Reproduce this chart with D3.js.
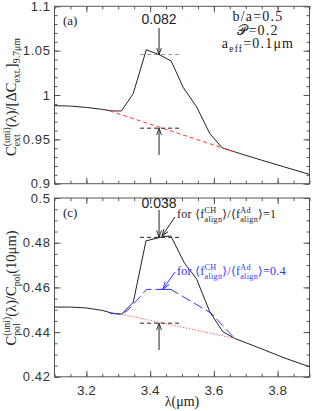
<!DOCTYPE html>
<html>
<head>
<meta charset="utf-8">
<script src="https://cdn.jsdelivr.net/npm/d3@7"></script>
<style>
  body { margin: 0; background: #fff; }
  svg text { fill: #222; }
</style>
</head>
<body>
<div id="chart"></div>
<script>
// panel (a): extinction, wavelength in micron
const lamA   = [3.1, 3.15, 3.2, 3.25, 3.28, 3.31, 3.347, 3.388, 3.428, 3.466, 3.504, 3.546, 3.587, 3.626, 3.67, 3.75, 3.82, 3.9];
const extA   = [0.988, 0.9875, 0.986, 0.9838, 0.982, 0.982, 1.0017, 1.051, 1.0456, 1.0384, 1.0084, 0.9866, 0.9566, 0.9404, 0.9353, 0.9265, 0.919, 0.9105];
const contA  = [[3.274, 0.982], [3.67, 0.9353]];

// panel (c): polarization
const lamC   = [3.1, 3.15, 3.2, 3.25, 3.28, 3.31, 3.347, 3.387, 3.44, 3.465, 3.508, 3.545, 3.587, 3.628, 3.665, 3.75, 3.82, 3.9];
const polC1  = [0.4512, 0.4512, 0.4508, 0.4497, 0.4485, 0.448, 0.4533, 0.4808, 0.4827, 0.483, 0.4708, 0.464, 0.4491, 0.4402, 0.4372, 0.4325, 0.4285, 0.4245];
const lamC04 = [3.274, 3.31, 3.331, 3.389, 3.465, 3.592, 3.665];
const polC04 = [0.4484, 0.448, 0.4499, 0.4591, 0.4591, 0.4484, 0.4372];
const contC  = [[3.31, 0.448], [3.665, 0.4372]];

const xTicks  = [3.2, 3.4, 3.6, 3.8];
const yTicksA = [0.9, 0.95, 1, 1.05, 1.1];
const yTicksC = [0.42, 0.44, 0.46, 0.48, 0.5];

// feature strength markers: [x, top level, bottom level, label]
const markA = [3.428, 1.0456, 0.9626, '0.082'];
const markC = [3.428, 0.4824, 0.444, '0.038'];

const W = 314, H = 411;
const L = 54.5, R = 309.5;
const serif = "'Liberation Serif','DejaVu Serif',serif";
const sans = "'Liberation Sans','DejaVu Sans',sans-serif";

const svg = d3.select('#chart').append('svg')
  .attr('width', W).attr('height', H);

const x = d3.scaleLinear().domain([3.1, 3.9]).range([L, R]);
const yA = d3.scaleLinear().domain([0.9, 1.1]).range([183.7, 6.3]);
const yC = d3.scaleLinear().domain([0.42, 0.5]).range([376.8, 198]);

// text with super/subscripts; back:true stacks a subscript under the previous superscript
function rich(t, parts, size) {
  let cur = 0, prev = 0, extra = 0;
  parts.forEach(p => {
    const fs = p.s ? size * 0.68 : size;
    const off = p.s === 'sup' ? -size * 0.42 : p.s === 'sub' ? size * 0.3 : 0;
    const ts = t.append('tspan').text(p.t).attr('font-size', fs).attr('dy', off - cur);
    if (p.back) ts.attr('dx', -prev);
    else if (extra > 0) ts.attr('dx', extra);
    cur = off;
    const len = ts.node().getComputedTextLength();
    extra = p.back ? prev - len : 0;
    prev = len;
  });
}

function frame(y, major, minorStep, showX) {
  const xMinor = d3.range(3.1, 3.9001, 0.05);
  const yMinor = d3.range(y.domain()[0], y.domain()[1] + 1e-6, minorStep);
  const [y0, y1] = y.range();
  const add = (ax, tr) => svg.append('g').attr('transform', tr).call(ax)
    .call(g => g.select('.domain').remove())
    .call(g => g.selectAll('line').attr('stroke', '#555'));
  add(d3.axisBottom(x).tickValues(xMinor).tickSize(-3).tickFormat(''), `translate(0,${y0})`);
  add(d3.axisTop(x).tickValues(xMinor).tickSize(-3).tickFormat(''), `translate(0,${y1})`);
  add(d3.axisBottom(x).tickValues(xTicks).tickSize(-6).tickFormat(''), `translate(0,${y0})`);
  add(d3.axisTop(x).tickValues(xTicks).tickSize(-6).tickFormat(''), `translate(0,${y1})`);
  add(d3.axisLeft(y).tickValues(yMinor).tickSize(-3).tickFormat(''), `translate(${L},0)`);
  add(d3.axisRight(y).tickValues(yMinor).tickSize(-3).tickFormat(''), `translate(${R},0)`);
  add(d3.axisLeft(y).tickValues(major).tickSize(-6).tickFormat(''), `translate(${L},0)`);
  add(d3.axisRight(y).tickValues(major).tickSize(-6).tickFormat(''), `translate(${R},0)`);
  svg.append('rect').attr('x', L).attr('y', y1).attr('width', R - L).attr('height', y0 - y1)
    .attr('fill', 'none').attr('stroke', '#555').attr('stroke-width', 1);
  svg.append('g').selectAll('text').data(major).join('text')
    .attr('x', L - 4).attr('y', d => y(d) + 4.6)
    .attr('text-anchor', 'end').attr('font-family', sans).attr('font-size', 13)
    .attr('letter-spacing', 0.6)
    .style('fill', '#333')
    .text(d => String(d));
  if (showX) {
    svg.append('g').selectAll('text').data(xTicks).join('text')
      .attr('x', d => x(d)).attr('y', y0 + 18)
      .attr('text-anchor', 'middle').attr('font-family', sans).attr('font-size', 13.5)
      .style('fill', '#333')
      .text(d => String(d));
  }
}

frame(yA, yTicksA, 0.01, false);
frame(yC, yTicksC, 0.005, true);

const line = y => d3.line().x(d => x(d[0])).y(d => y(d[1]));

// panel (a) curves
svg.append('path').datum(lamA.map((l, i) => [l, extA[i]])).attr('d', line(yA))
  .attr('fill', 'none').attr('stroke', '#222').attr('stroke-width', 1);
svg.append('path').datum(contA).attr('d', line(yA))
  .attr('fill', 'none').attr('stroke', '#f33').attr('stroke-width', 1).attr('stroke-dasharray', '4,3');

// panel (c) curves
svg.append('path').datum(lamC.map((l, i) => [l, polC1[i]])).attr('d', line(yC))
  .attr('fill', 'none').attr('stroke', '#222').attr('stroke-width', 1);
svg.append('path').datum(lamC04.map((l, i) => [l, polC04[i]])).attr('d', line(yC))
  .attr('fill', 'none').attr('stroke', '#33f').attr('stroke-width', 1).attr('stroke-dasharray', '10,4');
svg.append('path').datum(contC).attr('d', line(yC))
  .attr('fill', 'none').attr('stroke', '#f66').attr('stroke-width', 1).attr('stroke-dasharray', '1.5,1.5');

// arrow heads
const defs = svg.append('defs');
function marker(id, color) {
  defs.append('marker').attr('id', id).attr('viewBox', '0 0 10 10')
    .attr('refX', 10).attr('refY', 5).attr('markerWidth', 7).attr('markerHeight', 7)
    .attr('orient', 'auto-start-reverse')
    .append('path').attr('d', 'M0,1.5 L10,5 L0,8.5').attr('fill', 'none').attr('stroke', color).attr('stroke-width', 1.3);
}
marker('ak', '#222');
marker('ab', '#33f');

function strength(y, m, topCol, arrowTopY, arrowBotY, textY) {
  const [mx, hi, lo, lbl] = m;
  const x0 = x(mx) - 19, x1 = x(mx) + 20;
  svg.append('line').attr('x1', x0).attr('x2', x1).attr('y1', y(hi)).attr('y2', y(hi))
    .attr('stroke', topCol).attr('stroke-dasharray', '4,3');
  svg.append('line').attr('x1', x0).attr('x2', x1).attr('y1', y(lo)).attr('y2', y(lo))
    .attr('stroke', '#222').attr('stroke-dasharray', '4,3');
  svg.append('line').attr('x1', x(mx)).attr('x2', x(mx)).attr('y1', arrowTopY).attr('y2', y(hi))
    .attr('stroke', '#222').attr('marker-end', 'url(#ak)');
  svg.append('line').attr('x1', x(mx)).attr('x2', x(mx)).attr('y1', arrowBotY).attr('y2', y(lo))
    .attr('stroke', '#222').attr('marker-end', 'url(#ak)');
  svg.append('text').attr('x', x(mx)).attr('y', textY).attr('text-anchor', 'middle')
    .attr('font-family', sans).attr('font-size', 14).text(lbl);
}
strength(yA, markA, '#999', 28, 155, 24);
strength(yC, markC, '#222', 210, 350, 208);

// panel labels
svg.append('text').attr('x', 63).attr('y', 25).attr('font-family', serif).attr('font-size', 13).text('(a)');
svg.append('text').attr('x', 63).attr('y', 217).attr('font-family', serif).attr('font-size', 13).text('(c)');

// parameters
const pt = (tx, ty) => svg.append('text').attr('x', tx).attr('y', ty).attr('text-anchor', 'middle')
  .attr('font-family', serif).attr('font-size', 14).attr('letter-spacing', 1.2);
pt(258, 21).text('b/a=0.5');
pt(258, 34.5).text('\u{1D4AB}=0.2');
rich(pt(258, 48), [{t: 'a'}, {t: 'eff', s: 'sub'}, {t: '=0.1\u03BCm'}], 14);

// curve annotations
const fr = (tx, ty, col) => svg.append('text').attr('x', tx).attr('y', ty)
  .attr('font-family', serif).attr('font-size', 12).attr('letter-spacing', 0.3).style('fill', col);
rich(fr(177, 218, '#222'), [{t: 'for \u27E8f'}, {t: 'CH', s: 'sup'}, {t: 'align', s: 'sub', back: true},
  {t: '\u27E9/\u27E8f'}, {t: 'Ad', s: 'sup'}, {t: 'align', s: 'sub', back: true}, {t: '\u27E9=1'}], 12);
rich(fr(177, 275, '#33f'), [{t: 'for \u27E8f'}, {t: 'CH', s: 'sup'}, {t: 'align', s: 'sub', back: true},
  {t: '\u27E9/\u27E8f'}, {t: 'Ad', s: 'sup'}, {t: 'align', s: 'sub', back: true}, {t: '\u27E9=0.4'}], 12);
svg.append('line').attr('x1', 175).attr('y1', 217).attr('x2', 162).attr('y2', 236)
  .attr('stroke', '#222').attr('marker-end', 'url(#ak)');
svg.append('line').attr('x1', 175).attr('y1', 272).attr('x2', 163).attr('y2', 289)
  .attr('stroke', '#33f').attr('marker-end', 'url(#ab)');
svg.append('line').attr('x1', 160).attr('x2', 171).attr('y1', yC(0.4591)).attr('y2', yC(0.4591))
  .attr('stroke', '#33f');

// axis titles
const yt = (cy) => svg.append('text').attr('transform', `translate(16,${cy}) rotate(-90)`)
  .attr('text-anchor', 'middle').attr('font-family', serif).attr('font-size', 14.5);
rich(yt(97), [{t: 'C'}, {t: '(uni)', s: 'sup'}, {t: 'ext', s: 'sub', back: true}, {t: '(\u03BB)/[\u0394C'},
  {t: 'ext.', s: 'sub'}, {t: ']'}, {t: '9.7\u03BCm', s: 'sub'}], 14.5);
rich(yt(288), [{t: 'C'}, {t: '(uni)', s: 'sup'}, {t: 'pol', s: 'sub', back: true}, {t: '(\u03BB)/C'},
  {t: 'pol', s: 'sub'}, {t: '(10\u03BCm)'}], 14.5);
svg.append('text').attr('x', 182).attr('y', 406).attr('text-anchor', 'middle')
  .attr('font-family', serif).attr('font-size', 14).text('\u03BB(\u03BCm)');
</script>
</body>
</html>
